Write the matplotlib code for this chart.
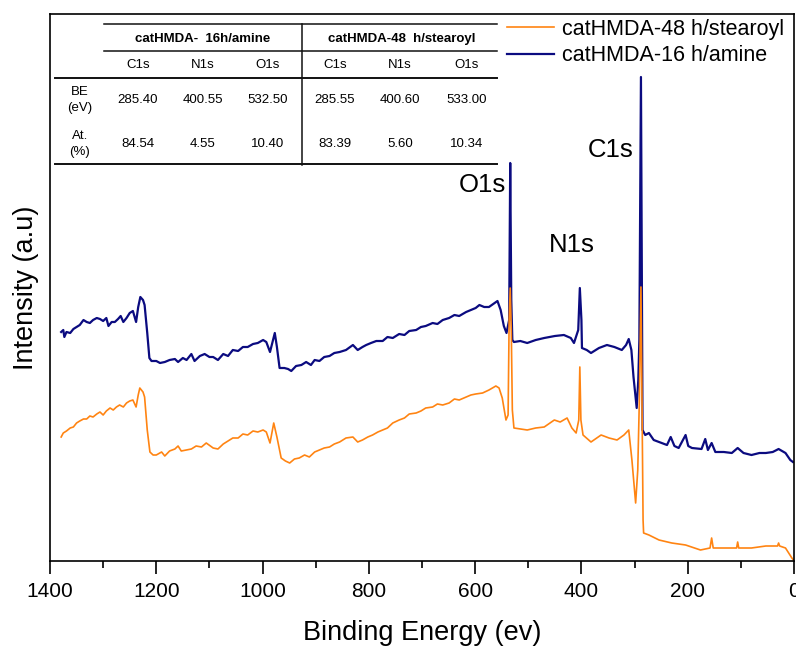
import matplotlib
matplotlib.use("Agg")
import matplotlib.pyplot as plt
from matplotlib.lines import Line2D

plt.rcParams['font.family'] = ['Liberation Sans', 'DejaVu Sans']

# ---------------- data ----------------
be_amine = [1379, 1375, 1373, 1369, 1362, 1356, 1350, 1344, 1337, 1331, 1325, 1319, 1312, 1306, 1300, 1294,
            1290, 1284, 1278, 1272, 1267, 1262, 1256, 1250, 1244, 1238, 1234, 1230, 1225, 1222, 1217, 1213,
            1209, 1200, 1193, 1184, 1175, 1165, 1159, 1150, 1143, 1134, 1128, 1118, 1109, 1100,
            1093, 1084, 1074, 1065, 1056, 1046, 1037, 1028, 1018, 1009, 999, 993, 986, 977, 973, 968,
            959, 952, 946, 937, 927, 918, 909, 902, 893, 884, 874, 865, 855, 843, 830, 821,
            812, 805, 796, 786, 774, 765, 755, 743, 733, 724, 711, 702, 693, 680, 671, 661, 649, 639, 630,
            617, 608, 599, 592, 583, 574, 558, 552, 546, 541,
            536, 534, 532, 530, 527, 515, 502, 486, 470, 450, 433, 420, 414, 406, 403, 400, 399, 390, 382, 367,
            352, 338, 324, 316, 311, 306, 302, 296, 293, 291, 288, 286, 285, 280, 273, 264, 254, 239, 232, 225,
            217, 204, 199, 192, 174, 167, 162, 155, 148, 132, 117, 106, 95, 80, 65, 53, 40, 29, 16, 7, 2]
int_amine = [229, 231, 224, 229, 228, 232, 234, 236, 241, 239, 238, 241, 243, 242, 240, 243,
             235, 239, 239, 242, 245, 239, 243, 248, 250, 239, 254, 264, 261, 256, 228, 203,
             200, 200, 198, 199, 201, 202, 199, 203, 201, 207, 200, 205, 207, 204,
             204, 201, 207, 205, 211, 210, 214, 214, 217, 218, 221, 219, 209, 228, 214, 193,
             193, 192, 190, 195, 196, 199, 196, 201, 200, 204, 205, 208, 209, 211, 216, 211,
             214, 216, 218, 220, 220, 224, 223, 227, 226, 230, 231, 234, 235, 238, 237, 241, 243, 246, 245,
             249, 251, 253, 256, 254, 254, 260, 251, 235, 228,
             241, 398, 261, 221, 219, 220, 218, 221, 223, 225, 226, 223, 218, 231, 273, 241, 213, 211, 208, 213,
             216, 214, 211, 216, 222, 211, 184, 153, 181, 221, 484, 261, 131, 126, 128, 121, 119, 116, 124, 115,
             113, 126, 115, 113, 112, 122, 111, 118, 109, 109, 108, 113, 108, 106, 108, 108, 109, 112, 108, 101, 99]

be_stearoyl = [1379, 1375, 1369, 1362, 1356, 1350, 1344, 1337, 1331, 1325, 1319, 1312, 1306, 1300, 1294,
               1287, 1281, 1275, 1269, 1262, 1256, 1250, 1244, 1238, 1234, 1231, 1225, 1222, 1217, 1212,
               1206, 1200, 1190, 1184, 1175, 1165, 1159, 1153, 1143, 1134, 1125, 1115, 1106,
               1093, 1084, 1074, 1065, 1056, 1046, 1037, 1028, 1018, 1009, 999, 993, 986, 979, 973, 965,
               957, 949, 940, 931, 921, 912, 902, 893, 884, 874, 865, 855, 843, 830, 821,
               812, 802, 793, 783, 774, 765, 755, 743, 733, 724, 711, 702, 693, 680, 671, 661, 649, 639, 630,
               617, 608, 599, 586, 574, 561, 555, 549, 542, 538,
               536, 534, 532, 530, 527, 515, 502, 486, 470, 451, 440, 427, 418, 410, 405, 403,
               401, 397, 382, 363, 348, 333, 320, 311, 305, 300, 298, 294, 291, 288, 286, 284, 283, 273, 254,
               230, 204, 176, 158, 155, 152, 148, 123, 108, 106, 104, 80, 53, 31, 29, 27, 16, 4, 1]
int_stearoyl = [124, 128, 130, 133, 134, 138, 140, 142, 142, 145, 144, 147, 149, 146, 150,
                153, 151, 154, 156, 154, 158, 160, 161, 154, 166, 173, 169, 164, 131, 109,
                106, 106, 109, 105, 110, 112, 115, 110, 111, 112, 115, 114, 118,
                113, 112, 117, 120, 123, 123, 127, 126, 130, 129, 131, 129, 118, 138, 124, 103,
                100, 98, 102, 103, 106, 104, 109, 111, 113, 114, 117, 119, 123, 124, 119,
                121, 124, 126, 129, 131, 133, 138, 141, 143, 147, 148, 150, 153, 154, 157, 156, 158, 162, 161,
                164, 166, 167, 168, 171, 175, 173, 163, 141, 146,
                241, 273, 231, 151, 133, 132, 131, 133, 134, 141, 139, 143, 133, 128, 141, 194,
                141, 126, 119, 126, 123, 121, 126, 131, 101, 71, 58, 91, 161, 274, 161, 41, 28, 26, 21,
                18, 16, 11, 13, 23, 13, 13, 13, 13, 19, 13, 13, 15, 15, 18, 15, 13, 3, 1]

series_labels = ["catHMDA-48 h/stearoyl", "catHMDA-16 h/amine"]
peak_names = ["O1s", "N1s", "C1s"]
peak_label_be = [587, 418, 345]
peak_label_int = [376, 316, 411]

table_groups = ["catHMDA-  16h/amine", "catHMDA-48  h/stearoyl"]
table_cols = ["C1s", "N1s", "O1s", "C1s", "N1s", "O1s"]
table_rows = ["BE\n(eV)", "At.\n(%)"]
table_be = ["285.40", "400.55", "532.50", "285.55", "400.60", "533.00"]
table_at = ["84.54", "4.55", "10.40", "83.39", "5.60", "10.34"]

# ---------------- figure ----------------
W, H = 796, 646
fig = plt.figure(figsize=(W / 100, H / 100), dpi=100)
ax = fig.add_axes([50 / W, 1 - 561 / H, (794 - 50) / W, (561 - 14) / H])

c_blue = "#0b0b80"
c_orange = "#ff8412"
l_amine, = ax.plot(be_amine, int_amine, color=c_blue, lw=1.6)
l_stear, = ax.plot(be_stearoyl, int_stearoyl, color=c_orange, lw=1.2)

ax.set_xlim(1400, 0)
ax.set_ylim(0, 547)
ax.set_xticks(range(0, 1401, 200))
ax.set_xticks(range(100, 1400, 200), minor=True)
ax.set_yticks([])
ax.tick_params(axis='x', which='major', direction='out', length=9, width=1.2, labelsize=15, pad=6)
ax.tick_params(axis='x', which='minor', direction='out', length=5, width=1.2)
for s in ax.spines.values():
    s.set_linewidth(1.2)
ax.set_xlabel("Binding Energy (ev)", fontsize=19.5, labelpad=14)
ax.set_ylabel("Intensity (a.u)", fontsize=19.5, labelpad=8)

for name, bx, by in zip(peak_names, peak_label_be, peak_label_int):
    ax.text(bx, by, name, fontsize=18.5, ha='center', va='center')

leg = ax.legend([l_stear, l_amine], series_labels, loc='upper left',
                bbox_to_anchor=(507 / W, 1 - 19 / H), bbox_transform=fig.transFigure,
                frameon=False, fontsize=15.5, handlelength=2.2, handletextpad=0.35,
                borderpad=0, borderaxespad=0, labelspacing=0.25)

# ---------------- table (figure pixel coordinates) ----------------
def fx(x):
    return x / W

def fy(y):
    return 1 - y / H

def hline(y, x0, x1, lw=1.0):
    fig.add_artist(Line2D([fx(x0), fx(x1)], [fy(y), fy(y)], color='#111111', lw=lw,
                          transform=fig.transFigure))

def vline(x, y0, y1, lw=1.0):
    fig.add_artist(Line2D([fx(x), fx(x)], [fy(y0), fy(y1)], color='#111111', lw=lw,
                          transform=fig.transFigure))

hline(24, 104, 497, 1.1)
hline(51, 104, 497, 1.1)
hline(78, 55, 497, 1.4)
hline(164, 55, 497, 1.4)
vline(302, 24, 165, 1.1)

tfs = 9.5
fig.text(fx(203), fy(39), table_groups[0], fontsize=tfs, fontweight='bold', ha='center', va='center')
fig.text(fx(402), fy(39), table_groups[1], fontsize=tfs, fontweight='bold', ha='center', va='center')
col_x = [138, 203, 268, 335, 400, 467]
for cx, name, vbe, vat in zip(col_x, table_cols, table_be, table_at):
    fig.text(fx(cx), fy(65), name, fontsize=tfs, ha='center', va='center')
    fig.text(fx(cx), fy(100), vbe, fontsize=tfs, ha='center', va='center')
    fig.text(fx(cx), fy(144), vat, fontsize=tfs, ha='center', va='center')
fig.text(fx(80), fy(100), table_rows[0], fontsize=tfs, ha='center', va='center', linespacing=1.45)
fig.text(fx(80), fy(144), table_rows[1], fontsize=tfs, ha='center', va='center', linespacing=1.45)

fig.savefig("out.png", dpi=100)
